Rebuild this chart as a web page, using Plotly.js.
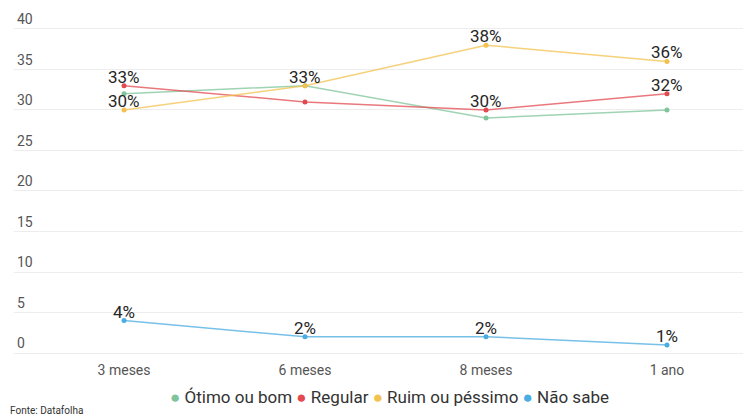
<!DOCTYPE html>
<html><head><meta charset="utf-8">
<script src="https://cdn.plot.ly/plotly-3.0.1.min.js"></script>
<style>html,body{margin:0;padding:0;background:#fff}#c{width:743px;height:418px}</style>
</head><body><div id="c"></div>
<script>
var categories = ["3 meses", "6 meses", "8 meses", "1 ano"];
var seriesNames = ["Ótimo ou bom", "Regular", "Ruim ou péssimo", "Não sabe"];
var otimo = [32, 33, 29, 30];
var regular = [33, 31, 30, 32];
var ruim = [30, 33, 38, 36];
var naoSabe = [4, 2, 2, 1];
var showOtimo = [false, false, false, false];
var showRegular = [true, false, true, true];
var showRuim = [true, true, true, true];
var showNaoSabe = [true, true, true, true];
var colors = ["#7fc49a", "#e34a4f", "#f2c14e", "#4aace0"];
var lineColors = ["rgba(127,196,154,0.75)", "rgba(227,74,79,0.75)", "rgba(242,193,78,0.75)", "rgba(74,172,224,0.75)"];
var yTicks = [0, 5, 10, 15, 20, 25, 30, 35, 40];
var source = "Fonte: Datafolha";

var all = [otimo, regular, ruim, naoSabe];
var shows = [showOtimo, showRegular, showRuim, showNaoSabe];
var traces = all.map(function (vals, i) {
  return {
    type: "scatter", mode: "lines+markers",
    x: categories, y: vals, name: seriesNames[i],
    line: {color: lineColors[i], width: 1.5},
    marker: {color: colors[i], size: 5},
    cliponaxis: false,
    showlegend: false, hoverinfo: "none"
  };
});

var annotations = [];
all.forEach(function (vals, i) {
  vals.forEach(function (v, j) {
    if (shows[i][j]) {
      annotations.push({
        x: categories[j], y: v, xref: "x", yref: "y",
        text: v + "%", showarrow: false,
        xanchor: "center", yanchor: "middle", yshift: 9,
        font: {family: "Roboto, sans-serif", size: 17, color: "#262626"}
      });
    }
  });
});

var legendText = seriesNames.map(function (n, i) {
  return '<span style="color:' + colors[i] + '">●</span> ' + n;
}).join(" ");

annotations.push(
  {xref: "paper", yref: "paper", x: 0.515, y: -0.104, xanchor: "center", yanchor: "middle",
   text: legendText, showarrow: false, font: {size: 17, color: "#333"}},
  {xref: "paper", yref: "paper", x: -0.008, y: -0.141, xanchor: "left", yanchor: "middle",
   text: source, showarrow: false, font: {size: 10, color: "#333"}}
);

var layout = {
  width: 743, height: 418,
  margin: {l: 14, r: 0, t: 5, b: 58},
  paper_bgcolor: "#fff", plot_bgcolor: "#fff",
  font: {family: "Roboto, sans-serif", color: "#555"},
  xaxis: {
    type: "category", range: [-0.608, 3.42],
    showgrid: false, zeroline: false, showline: false,
    ticks: "", tickfont: {size: 14, color: "#555"}
  },
  yaxis: {
    range: [-0.864, 42.96], tickvals: yTicks,
    ticklabelposition: "inside top",
    showgrid: true, gridcolor: "#ededed", gridwidth: 1,
    zeroline: false, showline: false, ticks: "",
    tickfont: {size: 14, color: "#555"}
  },
  annotations: annotations
};

Plotly.newPlot("c", traces, layout, {displayModeBar: false, staticPlot: true});
</script>
</body></html>
